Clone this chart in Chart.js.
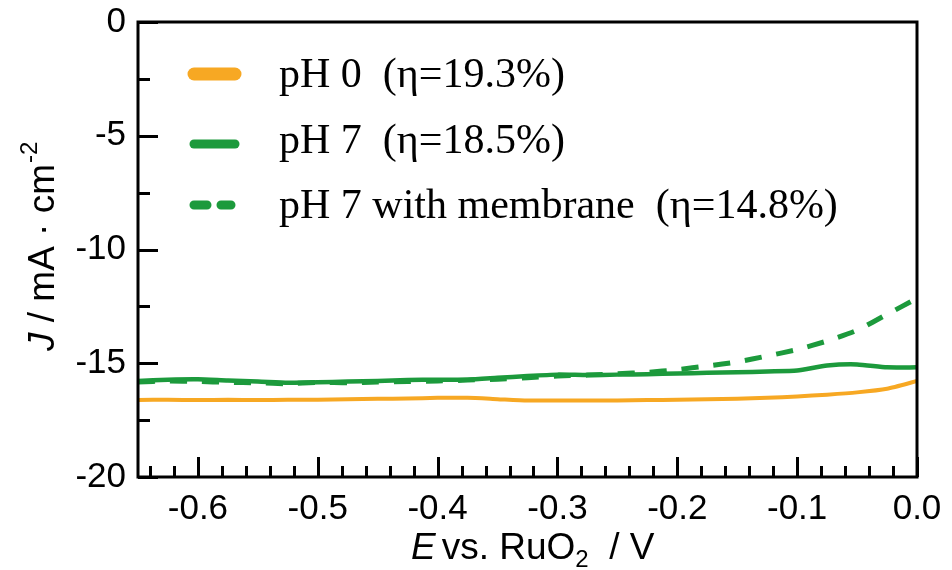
<!DOCTYPE html>
<html>
<head>
<meta charset="utf-8">
<script src="https://cdn.jsdelivr.net/npm/chart.js@4.4.1/dist/chart.umd.min.js"></script>
<style>
  html, body { margin: 0; padding: 0; background: #fff; }
  #wrap { width: 952px; height: 570px; }
</style>
</head>
<body>
<div id="wrap"><canvas id="jvChart" width="952" height="570"></canvas></div>
<script>
// Data
const E_VALUES = [
  -0.65, -0.625, -0.6, -0.575, -0.55, -0.525, -0.5, -0.475, -0.45, -0.425,
  -0.4, -0.375, -0.35, -0.325, -0.3, -0.275, -0.25, -0.225, -0.2, -0.175,
  -0.15, -0.125, -0.1, -0.075, -0.05, -0.025, 0.0
];
const J_PH0 = [
  -16.62, -16.60, -16.62, -16.60, -16.62, -16.60, -16.60, -16.58, -16.56, -16.55,
  -16.52, -16.52, -16.58, -16.64, -16.64, -16.64, -16.64, -16.62, -16.60, -16.58,
  -16.56, -16.52, -16.46, -16.38, -16.28, -16.12, -15.78
];
const J_PH7 = [
  -15.78, -15.72, -15.70, -15.76, -15.80, -15.86, -15.84, -15.80, -15.78, -15.74,
  -15.72, -15.72, -15.64, -15.56, -15.50, -15.52, -15.50, -15.48, -15.45, -15.42,
  -15.40, -15.36, -15.32, -15.10, -15.05, -15.18, -15.18
];
const J_PH7_MEMBRANE = [
  -15.82, -15.78, -15.80, -15.84, -15.86, -15.90, -15.84, -15.86, -15.82, -15.80,
  -15.78, -15.74, -15.70, -15.64, -15.56, -15.52, -15.46, -15.40, -15.28, -15.12,
  -14.94, -14.68, -14.40, -14.02, -13.55, -12.85, -12.15
];
const SERIES_LABELS = ["pH 0  (η=19.3%)", "pH 7  (η=18.5%)", "pH 7 with membrane  (η=14.8%)"];
const X_TICKS = [-0.6, -0.5, -0.4, -0.3, -0.2, -0.1, 0.0];
const Y_TICKS = [0, -5, -10, -15, -20];

const ORANGE = "#F7A823";
const GREEN = "#1C9A3C";
const SANS = "'Liberation Sans', Arial, sans-serif";
const SERIF = "'Liberation Serif', 'Times New Roman', serif";

function toPoints(ys) {
  return E_VALUES.map((x, i) => ({ x, y: ys[i] }));
}

// Frame, inward tick marks, axis titles and the legend
const decorPlugin = {
  id: "decor",
  afterDraw(chart) {
    const { ctx, chartArea: a, scales } = chart;
    const xs = scales.x, ys = scales.y;
    ctx.save();
    ctx.strokeStyle = "#000";
    ctx.lineWidth = 3;
    ctx.strokeRect(a.left, a.top, a.right - a.left, a.bottom - a.top);

    // x ticks: major 0.1, minor 0.02 (pointing up)
    ctx.beginPath();
    for (let k = -32; k <= 0; k++) {
      const v = k * 0.02;
      const px = Math.round(xs.getPixelForValue(v)) + 0.5;
      const len = (k % 5 === 0) ? 20 : 11;
      ctx.moveTo(px, a.bottom);
      ctx.lineTo(px, a.bottom - len);
    }
    // y ticks: major 5, minor 2.5 (pointing right)
    for (let k = 0; k <= 8; k++) {
      const v = -k * 2.5;
      const py = Math.round(ys.getPixelForValue(v)) + 0.5;
      const len = (k % 2 === 0) ? 20 : 12;
      ctx.moveTo(a.left, py);
      ctx.lineTo(a.left + len, py);
    }
    ctx.stroke();

    // x title: E vs. RuO2 / V
    ctx.fillStyle = "#000";
    ctx.textBaseline = "alphabetic";
    ctx.textAlign = "left";
    let x = 411, y = 559;
    ctx.font = "italic 37px " + SANS;
    ctx.fillText("E", x, y); x += ctx.measureText("E").width + 6;
    ctx.font = "37px " + SANS;
    ctx.fillText("vs. RuO", x, y); x += ctx.measureText("vs. RuO").width;
    ctx.font = "24px " + SANS;
    ctx.fillText("2", x, y + 8); x += ctx.measureText("2").width;
    ctx.font = "37px " + SANS;
    ctx.fillText("  / V", x, y);

    // y title: J / mA · cm-2 (rotated)
    ctx.save();
    ctx.translate(54, 351);
    ctx.rotate(-Math.PI / 2);
    x = 0; y = 0;
    ctx.font = "italic 37px " + SANS;
    ctx.fillText("J", x, y); x += ctx.measureText("J").width;
    ctx.font = "37px " + SANS;
    ctx.fillText(" / mA · cm", x, y); x += ctx.measureText(" / mA · cm").width;
    ctx.font = "24px " + SANS;
    ctx.fillText("-2", x + 1, y - 17);
    ctx.restore();

    // legend
    const rows = [
      { y: 74, color: ORANGE, width: 13, dash: [] },
      { y: 144, color: GREEN, width: 9, dash: [] },
      { y: 205, color: GREEN, width: 9, dash: [13, 14] }
    ];
    const baselines = [87, 153, 218];
    ctx.lineCap = "round";
    rows.forEach((r, i) => {
      ctx.strokeStyle = r.color;
      ctx.lineWidth = r.width;
      ctx.setLineDash(r.dash);
      ctx.beginPath();
      ctx.moveTo(194, r.y);
      ctx.lineTo(i === 2 ? 231 : 235, r.y);
      ctx.stroke();
      ctx.setLineDash([]);
      ctx.fillStyle = "#000";
      ctx.font = "42px " + SERIF;
      ctx.fillText(SERIES_LABELS[i], 279, baselines[i]);
    });
    ctx.restore();
  }
};

new Chart(document.getElementById("jvChart"), {
  type: "line",
  data: {
    datasets: [
      {
        label: SERIES_LABELS[0],
        data: toPoints(J_PH0),
        borderColor: ORANGE,
        borderWidth: 4,
        pointRadius: 0,
        tension: 0.2
      },
      {
        label: SERIES_LABELS[1],
        data: toPoints(J_PH7),
        borderColor: GREEN,
        borderWidth: 4.5,
        pointRadius: 0,
        tension: 0.2
      },
      {
        label: SERIES_LABELS[2],
        data: toPoints(J_PH7_MEMBRANE),
        borderColor: GREEN,
        borderWidth: 5,
        borderDash: [17, 15],
        pointRadius: 0,
        tension: 0.2
      }
    ]
  },
  options: {
    responsive: false,
    animation: false,
    layout: { padding: { top: 22, right: 35, left: 0, bottom: 0 } },
    plugins: {
      legend: { display: false },
      tooltip: { enabled: false }
    },
    scales: {
      x: {
        type: "linear",
        min: -0.65,
        max: 0,
        afterBuildTicks: s => { s.ticks = X_TICKS.map(v => ({ value: v })); },
        afterFit: s => { s.height = 93; s.paddingLeft = 0; s.paddingRight = 0; },
        ticks: {
          color: "#000",
          font: { family: SANS, size: 35 },
          padding: 11,
          maxRotation: 0,
          callback: v => v.toFixed(1)
        },
        grid: { display: false, drawTicks: false },
        border: { display: false }
      },
      y: {
        type: "linear",
        min: -20,
        max: 0,
        afterBuildTicks: s => { s.ticks = Y_TICKS.map(v => ({ value: v })); },
        afterFit: s => { s.width = 138; s.paddingTop = 0; s.paddingBottom = 0; },
        ticks: {
          color: "#000",
          font: { family: SANS, size: 35 },
          padding: 12
        },
        grid: { display: false, drawTicks: false },
        border: { display: false }
      }
    }
  },
  plugins: [decorPlugin]
});
</script>
</body>
</html>
